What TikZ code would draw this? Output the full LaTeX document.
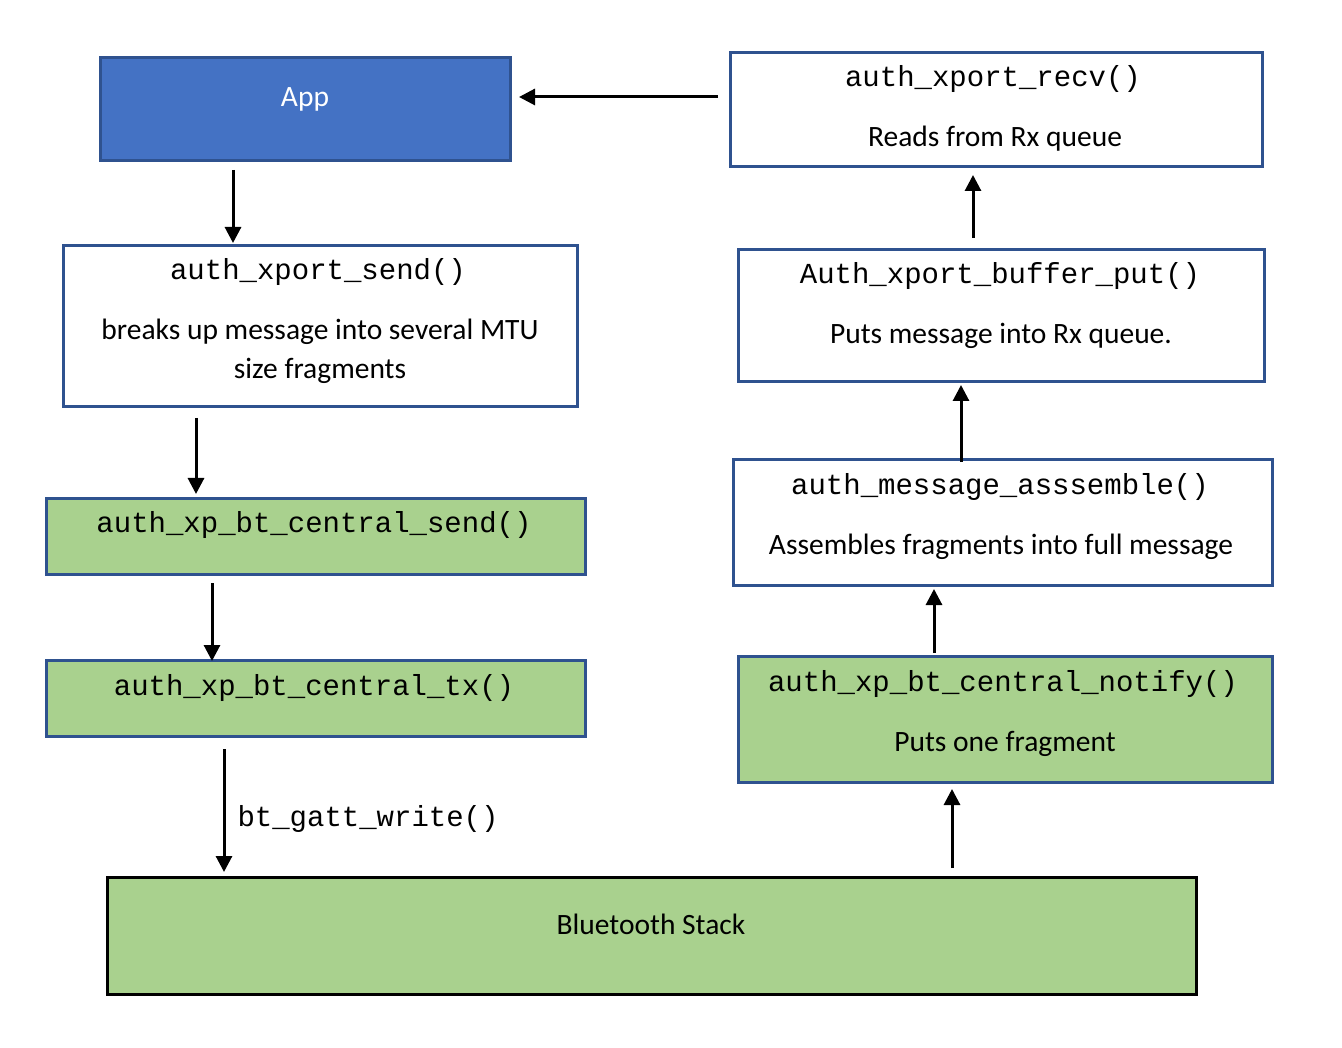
\documentclass[tikz,border=0pt]{standalone}
\usepackage{fontspec}
\setmainfont{Carlito}
\setmonofont{Liberation Mono}
\usetikzlibrary{arrows.meta}

\definecolor{appblue}{RGB}{68,114,196}
\definecolor{edgeblue}{RGB}{47,82,143}
\definecolor{stackgreen}{RGB}{169,209,142}

\tikzset{
	box/.style={draw=edgeblue, line width=3pt, fill=white, inner sep=0pt},
	greenbox/.style={box, fill=stackgreen},
	fnname/.style={font=\ttfamily\fontsize{29}{34}\selectfont, anchor=base, inner sep=0pt},
	desc/.style={font=\fontsize{29.5}{39}\selectfont, anchor=base, inner sep=0pt},
	flow/.style={draw=black, line width=3pt, -{Triangle[length=16pt,width=16pt]}}}

\begin{document}
\begin{tikzpicture}[x=1pt,y=1pt,yscale=-1,xscale=1]
	\useasboundingbox (0,0) rectangle (1342,1048);

	%Shape: Rectangle [App]
	\node [box, fill=appblue, minimum width=410, minimum height=103] (app) at (305.5,109) {};
	%Shape: Rectangle [recv]
	\node [box, minimum width=532, minimum height=114] (recv) at (996.5,109.5) {};
	%Shape: Rectangle [send]
	\node [box, minimum width=514, minimum height=161] (send) at (320.5,326) {};
	%Shape: Rectangle [central send]
	\node [greenbox, minimum width=539, minimum height=76] (csend) at (316,536.5) {};
	%Shape: Rectangle [central tx]
	\node [greenbox, minimum width=539, minimum height=76] (ctx) at (316,698.5) {};
	%Shape: Rectangle [stack]
	\node [greenbox, draw=black, minimum width=1089, minimum height=117] (stack) at (652,936) {};
	%Shape: Rectangle [buffer put]
	\node [box, minimum width=526, minimum height=132] (bput) at (1001.5,315.5) {};
	%Shape: Rectangle [assemble]
	\node [box, minimum width=539, minimum height=126] (assem) at (1003,522.5) {};
	%Shape: Rectangle [notify]
	\node [greenbox, minimum width=534, minimum height=126] (notify) at (1005.5,719.5) {};

	% Text Node
	\node [desc, text=white] (applbl) at (305,107) {App};
	% Text Node
	\node [fnname] (recvfn) at (993,87) {auth\_xport\_recv()};
	\node [desc] (recvdesc) at (995,147) {Reads from Rx queue};
	% Text Node
	\node [fnname] (sendfn) at (318,280) {auth\_xport\_send()};
	\node [desc, anchor=center, align=center] (senddesc) at (320,351) {breaks up message into several MTU\\size fragments};
	% Text Node
	\node [fnname] (csendfn) at (314,532) {auth\_xp\_bt\_central\_send()};
	% Text Node
	\node [fnname] (ctxfn) at (314,695) {auth\_xp\_bt\_central\_tx()};
	% Text Node
	\node [desc] (stacklbl) at (651,934) {Bluetooth Stack};
	% Text Node
	\node [fnname] (bputfn) at (1000,284) {Auth\_xport\_buffer\_put()};
	\node [desc] (bputdesc) at (1001,344) {Puts message into Rx queue.};
	% Text Node
	\node [fnname] (assemfn) at (1000,494) {auth\_message\_asssemble()};
	\node [desc] (assemdesc) at (1001,554) {Assembles fragments into full message};
	% Text Node
	\node [fnname] (notifyfn) at (1003,691) {auth\_xp\_bt\_central\_notify()};
	\node [desc] (notifydesc) at (1005,751) {Puts one fragment};

	%Straight Lines [send path]
	\draw [flow] ([xshift=-72.5pt,yshift=8pt]app.south) -- ([xshift=-87.5pt,yshift=-1pt]send.north);
	\draw [flow] ([xshift=-124.5pt,yshift=10pt]send.south) -- ([xshift=-120pt,yshift=-3pt]csend.north);
	\draw [flow] ([xshift=-104pt,yshift=7pt]csend.south) -- ([xshift=-104pt,yshift=2pt]ctx.north);
	\draw [flow] ([xshift=-92pt,yshift=11pt]ctx.south) -- ([xshift=-428pt,yshift=-4pt]stack.north)
		node [fnname, pos=0.55, anchor=west, xshift=12pt, yshift=-2pt] (gattlbl) {bt\_gatt\_write()};
	%Straight Lines [receive path]
	\draw [flow] ([xshift=300pt,yshift=-8pt]stack.north) -- ([xshift=-53.5pt,yshift=5pt]notify.south);
	\draw [flow] ([xshift=-71.5pt,yshift=-2pt]notify.north) -- ([xshift=-69pt,yshift=2pt]assem.south);
	\draw [flow] ([xshift=-42pt,yshift=4pt]assem.north) -- ([xshift=-40.5pt,yshift=2pt]bput.south);
	\draw [flow] ([xshift=-28.5pt,yshift=-10pt]bput.north) -- ([xshift=-23.5pt,yshift=7pt]recv.south);
	\draw [flow] ([xshift=-11pt,yshift=-12.5pt]recv.west) -- ([xshift=7pt,yshift=-12pt]app.east);

\end{tikzpicture}
\end{document}
